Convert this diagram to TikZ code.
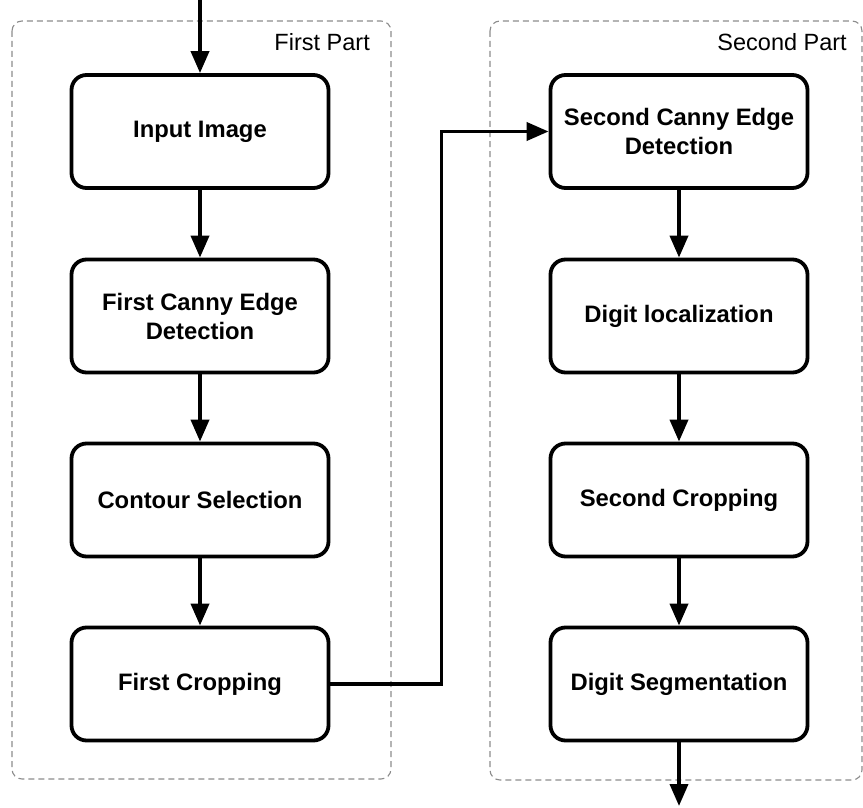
\documentclass[tikz,border=0pt]{standalone}
\usepackage{fontspec}
\setmainfont{Liberation Sans}
\usetikzlibrary{arrows.meta}
\begin{document}
\begin{tikzpicture}[x=1pt,y=-1pt,
  stage/.style={draw, line width=3.8pt, rounded corners=15pt,
    minimum width=257pt, minimum height=113pt, align=center,
    inner sep=0pt, font=\fontsize{23.8}{29}\selectfont\bfseries},
  part/.style={draw=black!45, line width=1.1pt,
    dash pattern=on 6pt off 4pt, rounded corners=10pt},
  flow/.style={line width=3.8pt, -{Triangle[length=22pt,width=18pt]}},
  tag/.style={font=\fontsize{23.5}{28}\selectfont, anchor=east, inner sep=0pt}]
\useasboundingbox (0,0) rectangle (863,808);

% dashed group frames
\draw[part] (12,21) rectangle (391,779);
\draw[part] (490,21) rectangle (862,780);
\node[tag] (firsttag) at (370,42) {First Part};
\node[tag] (secondtag) at (847,42) {Second Part};

% first part stages
\node[stage] (input)   at (200,131.5) {Input Image};
\node[stage] (canny1)  at (200,316)   {First Canny Edge\\Detection};
\node[stage] (contour) at (200,500)   {Contour Selection};
\node[stage] (crop1)   at (200,684)   {First Cropping};

% second part stages
\node[stage] (canny2) at (679,131.5) {Second Canny Edge\\Detection};
\node[stage] (loc)    at (679,316)   {Digit localization};
\node[stage] (crop2)  at (679,500)   {Second Cropping};
\node[stage] (seg)    at (679,684)   {Digit Segmentation};

% entry and exit points
\coordinate (in)  at (200,0);
\coordinate (out) at (679,806);

% flow connectors
\draw[flow] (in) -- (input);
\draw[flow] (input) -- (canny1);
\draw[flow] (canny1) -- (contour);
\draw[flow] (contour) -- (crop1);
\draw[flow] (crop1.east) -- ++(111,0) |- (canny2.west);
\draw[flow] (canny2) -- (loc);
\draw[flow] (loc) -- (crop2);
\draw[flow] (crop2) -- (seg);
\draw[flow] (seg) -- (out);
\end{tikzpicture}
\end{document}
